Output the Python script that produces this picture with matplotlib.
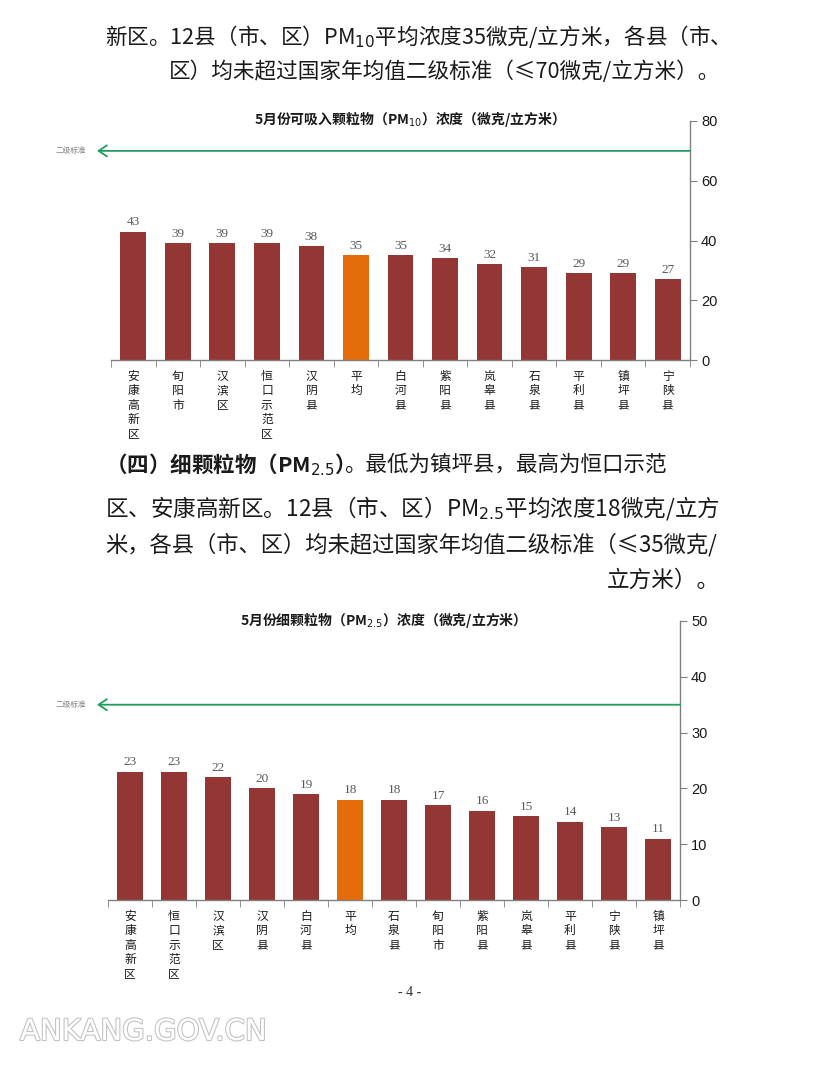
import numpy as np
import matplotlib
matplotlib.use('Agg')
import matplotlib.pyplot as plt
import matplotlib.patheffects as pe

plt.rcParams['font.family'] = ['Noto Sans CJK SC', 'DejaVu Sans']
plt.rcParams['mathtext.fontset'] = 'dejavusans'

# ---------------- data ----------------
pm10_names = ['安康高新区', '旬阳市', '汉滨区', '恒口示范区', '汉阴县', '平均', '白河县',
              '紫阳县', '岚皋县', '石泉县', '平利县', '镇坪县', '宁陕县']
pm10_vals = [43, 39, 39, 39, 38, 35, 35, 34, 32, 31, 29, 29, 27]
pm10_limit = 70
pm10_ticks = [0, 20, 40, 60, 80]

pm25_names = ['安康高新区', '恒口示范区', '汉滨区', '汉阴县', '白河县', '平均', '石泉县',
              '旬阳市', '紫阳县', '岚皋县', '平利县', '宁陕县', '镇坪县']
pm25_vals = [23, 23, 22, 20, 19, 18, 18, 17, 16, 15, 14, 13, 11]
pm25_limit = 35
pm25_ticks = [0, 10, 20, 30, 40, 50]

avg_name = '平均'
limit_label = '二级标准'
title1 = '5月份可吸入颗粒物（PM$_{10}$）浓度（微克/立方米）'
title2 = '5月份细颗粒物（PM$_{2.5}$）浓度（微克/立方米）'

RED = '#943634'
ORANGE = '#E46C0A'
GREEN = '#1E9E5A'
GREY = '#808080'

W, H = 827, 1065
fig = plt.figure(figsize=(W / 100, H / 100), dpi=100)
fig.patch.set_facecolor('white')


def px(x):
    return x / W


def py(y):
    return 1 - y / H


renderer = fig.canvas.get_renderer()


def fit_segments(segs, left, right, y, base=15):
    """Fit a justified line of segments between left and right pixel x; return size."""
    texts = []
    for s, wgt in segs:
        texts.append(fig.text(0, py(y), s, ha='left', va='center', fontsize=base,
                              weight=wgt, color='#1a1a1a'))
    widths = [t.get_window_extent(renderer).width for t in texts]
    scale = (right - left) / sum(widths)
    for t in texts:
        t.set_fontsize(base * scale)
    widths = [t.get_window_extent(renderer).width for t in texts]
    xcur = left
    for t, w in zip(texts, widths):
        t.set_x(px(xcur))
        xcur += w
    return base * scale


def short_line(s, right, y, size):
    fig.text(px(right), py(y), s, ha='right', va='center', fontsize=size, color='#1a1a1a')


# ---------------- paragraph text ----------------
s1 = fit_segments([('新区。12县（市、区）PM$_{10}$平均浓度35微克/立方米，各县（市、', 'normal')], 105, 720, 37)
short_line('区）均未超过国家年均值二级标准（≤70微克/立方米）。', 720, 72, s1)

fit_segments([('（四）细颗粒物（PM$_{2.5}$）', 'bold'), ('。最低为镇坪县，最高为恒口示范', 'normal')],
             105, 668, 465)
s4 = fit_segments([('区、安康高新区。12县（市、区）PM$_{2.5}$平均浓度18微克/立方', 'normal')], 105, 720, 508)
fit_segments([('米，各县（市、区）均未超过国家年均值二级标准（≤35微克/', 'normal')], 105, 720, 545)
short_line('立方米）。', 720, 580, s4)


# ---------------- charts ----------------
def draw_chart(left, right, top, bottom, names, vals, ticks, limit, title, title_x, title_y):
    ax = fig.add_axes([px(left), py(bottom), (right - left) / W, (bottom - top) / H])
    x = np.arange(len(names))
    colors = [ORANGE if n == avg_name else RED for n in names]
    ax.bar(x, vals, width=0.58, color=colors, zorder=2)
    ax.set_xlim(-0.5, len(names) - 0.5)
    ax.set_ylim(ticks[0], ticks[-1])
    ax.set_yticks(ticks)
    ax.yaxis.tick_right()
    for s in ['left', 'top']:
        ax.spines[s].set_visible(False)
    for s in ['right', 'bottom']:
        ax.spines[s].set_color(GREY)
        ax.spines[s].set_linewidth(1.0)
    ax.tick_params(axis='y', direction='out', length=5, color=GREY, labelsize=10.5, pad=3)
    for lab in ax.get_yticklabels():
        lab.set_family('Liberation Sans')
        lab.set_color('#1a1a1a')
    ax.set_xticks(x)
    ax.set_xticklabels(['\n'.join(n) for n in names], fontsize=8.5, linespacing=1.15,
                       va='top', color='#1a1a1a')
    ax.tick_params(axis='x', which='major', length=0, pad=7)
    ax.set_xticks(np.arange(-0.5, len(names)), minor=True)
    ax.tick_params(axis='x', which='minor', length=5, direction='out', color=GREY)
    for xi, v in zip(x, vals):
        ax.annotate(str(v), (xi, v), xytext=(0, 2.5), textcoords='offset points',
                    ha='center', va='bottom', fontsize=9.5, color='#595959',
                    family='Liberation Serif')
    tr = ax.get_yaxis_transform()
    tip = (97 - left) / (right - left)
    ax.annotate('', xy=(tip, limit), xycoords=tr, xytext=(1.0, limit), textcoords=tr,
                arrowprops=dict(arrowstyle='->,head_length=0.6,head_width=0.4',
                                color=GREEN, lw=1.3, shrinkA=0, shrinkB=0),
                annotation_clip=False)
    lab_x = (71 - left) / (right - left)
    ax.text(lab_x, limit, limit_label, transform=tr, fontsize=5.5, color=GREY,
            ha='center', va='center', clip_on=False)
    fig.text(px(title_x), py(title_y), title, ha='center', va='center', fontsize=10,
             weight='bold', color='#1a1a1a')
    return ax


draw_chart(111, 690, 121, 360, pm10_names, pm10_vals, pm10_ticks, pm10_limit, title1, 406, 119)
draw_chart(108, 680, 621, 900, pm25_names, pm25_vals, pm25_ticks, pm25_limit, title2, 380, 620)

# page number and watermark
fig.text(px(410), py(993), '- 4 -', ha='center', va='center', fontsize=10,
         family='Liberation Serif', color='#333333')
fig.text(px(20), py(1032), 'ANKANG.GOV.CN', ha='left', va='center', fontsize=21,
         family='DejaVu Sans', color='white',
         path_effects=[pe.withStroke(linewidth=1.6, foreground='#c4c4c4')])

fig.savefig('out.png', dpi=100, facecolor='white')
